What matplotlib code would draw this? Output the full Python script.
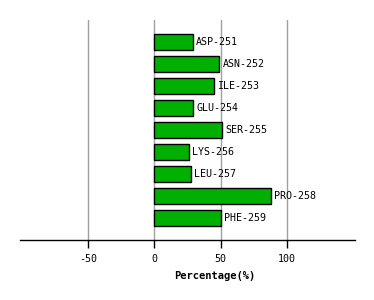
import numpy as np
import matplotlib.pyplot as plt

residues = ["ASP-251", "ASN-252", "ILE-253", "GLU-254", "SER-255",
            "LYS-256", "LEU-257", "PRO-258", "PHE-259"]
percent = [29, 49, 44.6, 29, 51.3, 25.8, 27.3, 87.5, 50]
xticks = [-50, 0, 50, 100]

fig = plt.figure(figsize=(3.74, 3.0), dpi=100)
ax = fig.add_axes([20/374, 60/300, 335/374, 220/300])

ypos = np.arange(len(residues))[::-1]
ax.barh(ypos, percent, height=0.7, color="#00b000", edgecolor="black",
        linewidth=1, zorder=3)
for y, v, name in zip(ypos, percent, residues):
    ax.text(v + 2.5, y, name, va="center", ha="left",
            family="DejaVu Sans Mono", fontsize=7.2, zorder=4)

ax.set_xlim(-101, 151)
ax.set_ylim(-1, 9)
ax.set_xticks(xticks)
ax.set_xticklabels([str(t) for t in xticks], family="DejaVu Sans Mono", fontsize=7.2)
ax.set_yticks([])
ax.grid(axis="x", color="#a0a0a0", linewidth=1, zorder=0)
for s in ["top", "left", "right"]:
    ax.spines[s].set_visible(False)
ax.spines["bottom"].set_linewidth(1)
ax.tick_params(axis="x", length=6, width=1, color="black", pad=4)
ax.set_xlabel("Percentage(%)", family="DejaVu Sans Mono", fontsize=7.5,
              fontweight="bold", labelpad=4)
ax.xaxis.set_label_coords(0.58, -0.14)

fig.savefig("out.png", dpi=100)
